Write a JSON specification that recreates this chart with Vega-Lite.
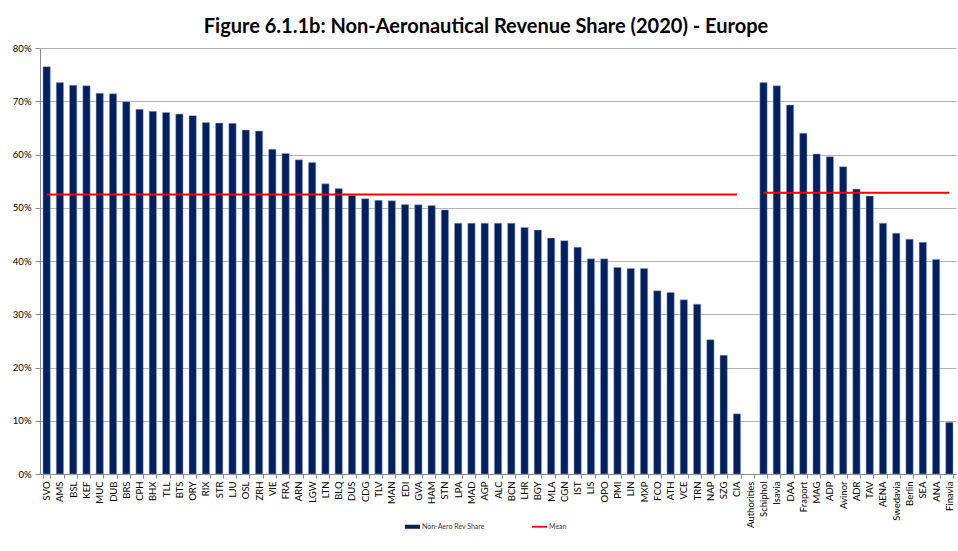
{
  "$schema": "https://vega.github.io/schema/vega-lite/v6.json",
  "width": 916,
  "height": 426,
  "autosize": {"type": "none"},
  "padding": {"left": 40, "top": 48, "right": 2, "bottom": 77},
  "background": "white",
  "title": {
    "text": "Figure 6.1.1b: Non-Aeronautical Revenue Share (2020) - Europe",
    "font": "Lato",
    "fontSize": 20,
    "fontWeight": "bold",
    "color": "#000000",
    "anchor": "middle",
    "offset": 6,
    "dx": -12
  },
  "config": {
    "view": {"stroke": null},
    "axis": {"labelFont": "Lato", "labelColor": "#000000", "domainColor": "#8c8c8c", "tickColor": "#8c8c8c", "gridColor": "#b4b4b4"}
  },
  "data": {
    "values": [
      {"name": "SVO", "share": 76.5, "mean": 52.5, "grp": "A"},
      {"name": "AMS", "share": 73.5, "mean": 52.5, "grp": "A"},
      {"name": "BSL", "share": 73.0, "mean": 52.5, "grp": "A"},
      {"name": "KEF", "share": 72.9, "mean": 52.5, "grp": "A"},
      {"name": "MUC", "share": 71.5, "mean": 52.5, "grp": "A"},
      {"name": "DUB", "share": 71.4, "mean": 52.5, "grp": "A"},
      {"name": "BRS", "share": 69.9, "mean": 52.5, "grp": "A"},
      {"name": "CPH", "share": 68.5, "mean": 52.5, "grp": "A"},
      {"name": "BHX", "share": 68.1, "mean": 52.5, "grp": "A"},
      {"name": "TLL", "share": 67.9, "mean": 52.5, "grp": "A"},
      {"name": "BTS", "share": 67.6, "mean": 52.5, "grp": "A"},
      {"name": "ORY", "share": 67.3, "mean": 52.5, "grp": "A"},
      {"name": "RIX", "share": 66.0, "mean": 52.5, "grp": "A"},
      {"name": "STR", "share": 65.9, "mean": 52.5, "grp": "A"},
      {"name": "LJU", "share": 65.85, "mean": 52.5, "grp": "A"},
      {"name": "OSL", "share": 64.6, "mean": 52.5, "grp": "A"},
      {"name": "ZRH", "share": 64.4, "mean": 52.5, "grp": "A"},
      {"name": "VIE", "share": 61.0, "mean": 52.5, "grp": "A"},
      {"name": "FRA", "share": 60.2, "mean": 52.5, "grp": "A"},
      {"name": "ARN", "share": 59.0, "mean": 52.5, "grp": "A"},
      {"name": "LGW", "share": 58.5, "mean": 52.5, "grp": "A"},
      {"name": "LTN", "share": 54.5, "mean": 52.5, "grp": "A"},
      {"name": "BLQ", "share": 53.6, "mean": 52.5, "grp": "A"},
      {"name": "DUS", "share": 52.3, "mean": 52.5, "grp": "A"},
      {"name": "CDG", "share": 51.7, "mean": 52.5, "grp": "A"},
      {"name": "TLV", "share": 51.4, "mean": 52.5, "grp": "A"},
      {"name": "MAN", "share": 51.3, "mean": 52.5, "grp": "A"},
      {"name": "EDI", "share": 50.6, "mean": 52.5, "grp": "A"},
      {"name": "GVA", "share": 50.55, "mean": 52.5, "grp": "A"},
      {"name": "HAM", "share": 50.4, "mean": 52.5, "grp": "A"},
      {"name": "STN", "share": 49.6, "mean": 52.5, "grp": "A"},
      {"name": "LPA", "share": 47.1, "mean": 52.5, "grp": "A"},
      {"name": "MAD", "share": 47.1, "mean": 52.5, "grp": "A"},
      {"name": "AGP", "share": 47.1, "mean": 52.5, "grp": "A"},
      {"name": "ALC", "share": 47.1, "mean": 52.5, "grp": "A"},
      {"name": "BCN", "share": 47.1, "mean": 52.5, "grp": "A"},
      {"name": "LHR", "share": 46.3, "mean": 52.5, "grp": "A"},
      {"name": "BGY", "share": 45.8, "mean": 52.5, "grp": "A"},
      {"name": "MLA", "share": 44.3, "mean": 52.5, "grp": "A"},
      {"name": "CGN", "share": 43.8, "mean": 52.5, "grp": "A"},
      {"name": "IST", "share": 42.6, "mean": 52.5, "grp": "A"},
      {"name": "LIS", "share": 40.4, "mean": 52.5, "grp": "A"},
      {"name": "OPO", "share": 40.4, "mean": 52.5, "grp": "A"},
      {"name": "PMI", "share": 38.8, "mean": 52.5, "grp": "A"},
      {"name": "LIN", "share": 38.6, "mean": 52.5, "grp": "A"},
      {"name": "MXP", "share": 38.6, "mean": 52.5, "grp": "A"},
      {"name": "FCO", "share": 34.4, "mean": 52.5, "grp": "A"},
      {"name": "ATH", "share": 34.1, "mean": 52.5, "grp": "A"},
      {"name": "VCE", "share": 32.7, "mean": 52.5, "grp": "A"},
      {"name": "TRN", "share": 31.9, "mean": 52.5, "grp": "A"},
      {"name": "NAP", "share": 25.2, "mean": 52.5, "grp": "A"},
      {"name": "SZG", "share": 22.3, "mean": 52.5, "grp": "A"},
      {"name": "CIA", "share": 11.3, "mean": 52.5, "grp": "A"},
      {"name": "Authorities", "share": null, "mean": null, "grp": "X"},
      {"name": "Schiphol", "share": 73.5, "mean": 52.8, "grp": "B"},
      {"name": "Isavia", "share": 72.9, "mean": 52.8, "grp": "B"},
      {"name": "DAA", "share": 69.3, "mean": 52.8, "grp": "B"},
      {"name": "Fraport", "share": 64.0, "mean": 52.8, "grp": "B"},
      {"name": "MAG", "share": 60.1, "mean": 52.8, "grp": "B"},
      {"name": "ADP", "share": 59.6, "mean": 52.8, "grp": "B"},
      {"name": "Avinor", "share": 57.7, "mean": 52.8, "grp": "B"},
      {"name": "ADR", "share": 53.5, "mean": 52.8, "grp": "B"},
      {"name": "TAV", "share": 52.2, "mean": 52.8, "grp": "B"},
      {"name": "AENA", "share": 47.1, "mean": 52.8, "grp": "B"},
      {"name": "Swedavia", "share": 45.2, "mean": 52.8, "grp": "B"},
      {"name": "Berlin", "share": 44.1, "mean": 52.8, "grp": "B"},
      {"name": "SEA", "share": 43.5, "mean": 52.8, "grp": "B"},
      {"name": "ANA", "share": 40.3, "mean": 52.8, "grp": "B"},
      {"name": "Finavia", "share": 9.7, "mean": 52.8, "grp": "B"}
    ]
  },
  "encoding": {
    "x": {
      "field": "name",
      "type": "nominal",
      "sort": null,
      "scale": {
        "domain": ["SVO","AMS","BSL","KEF","MUC","DUB","BRS","CPH","BHX","TLL","BTS","ORY","RIX","STR","LJU","OSL","ZRH","VIE","FRA","ARN","LGW","LTN","BLQ","DUS","CDG","TLV","MAN","EDI","GVA","HAM","STN","LPA","MAD","AGP","ALC","BCN","LHR","BGY","MLA","CGN","IST","LIS","OPO","PMI","LIN","MXP","FCO","ATH","VCE","TRN","NAP","SZG","CIA","Authorities","Schiphol","Isavia","DAA","Fraport","MAG","ADP","Avinor","ADR","TAV","AENA","Swedavia","Berlin","SEA","ANA","Finavia"],
        "paddingInner": 0.45,
        "paddingOuter": 0.225
      },
      "axis": {
        "title": null,
        "labelAngle": -90,
        "labelFontSize": 9.5,
        "labelPadding": 3,
        "tickBand": "extent",
        "tickSize": 4,
        "domainWidth": 1,
        "ticks": true
      }
    }
  },
  "layer": [
    {
      "mark": {"type": "bar", "stroke": "#9aa6c8", "strokeWidth": 0.5},
      "transform": [{"filter": "datum.share != null"}],
      "encoding": {
        "y": {
          "field": "share",
          "type": "quantitative",
          "scale": {"domain": [0, 80], "nice": false},
          "axis": {
            "title": null,
            "values": [0, 10, 20, 30, 40, 50, 60, 70, 80],
            "labelExpr": "datum.value + '%'",
            "labelFontSize": 9.5,
            "tickSize": 5,
            "labelPadding": 4,
            "grid": true,
            "gridWidth": 1
          }
        },
        "color": {
          "datum": "Non-Aero Rev Share",
          "type": "nominal",
          "scale": {"domain": ["Non-Aero Rev Share", "Mean"], "range": ["#002060", "#ff0000"]},
          "legend": {
            "title": null,
            "orient": "none",
            "direction": "horizontal",
            "legendX": 365,
            "legendY": 471,
            "labelFont": "Lato",
            "labelFontSize": 7,
            "labelColor": "#404040",
            "labelOffset": 2,
            "columnPadding": 47,
            "symbolSize": 225,
            "symbolType": "M-1,-0.27H1V0.27H-1Z",
            "encoding": {
              "symbols": {
                "shape": {"condition": {"test": "datum.value === 'Mean'", "value": "M-1,-0.12H1V0.12H-1Z"}, "value": "M-1,-0.27H1V0.27H-1Z"},
                "fill": {"condition": {"test": "datum.value === 'Mean'", "value": "#ff0000"}, "value": "#002060"},
                "stroke": {"condition": {"test": "datum.value === 'Mean'", "value": "#ff0000"}, "value": "#002060"},
                "strokeWidth": {"value": 0}
              }
            }
          }
        }
      }
    },
    {
      "mark": {"type": "line", "strokeWidth": 2},
      "transform": [{"filter": "datum.mean != null"}],
      "encoding": {
        "y": {"field": "mean", "type": "quantitative"},
        "detail": {"field": "grp"},
        "color": {"datum": "Mean", "type": "nominal"}
      }
    }
  ]
}
